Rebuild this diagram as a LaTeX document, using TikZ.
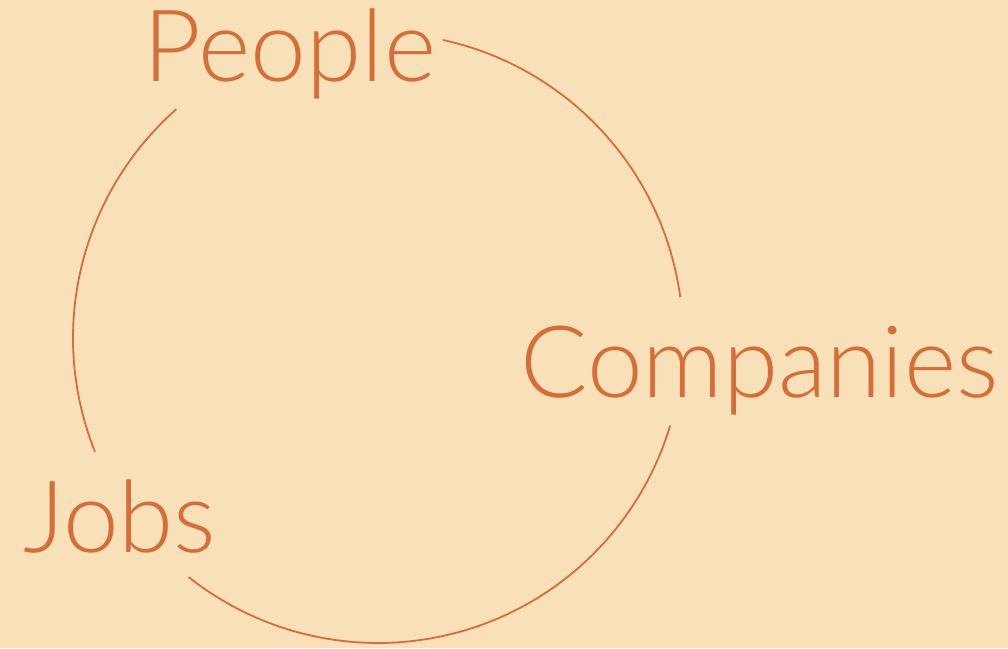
\documentclass[tikz,border=0pt]{standalone}
\usepackage{fontspec}
\newfontfamily\wordfont{Lato}[UprightFont={* Light}]
\definecolor{paper}{HTML}{F8E0B9}
\definecolor{rust}{HTML}{D76D37}
\tikzset{
  word/.style = {text = rust, inner sep = 0pt, anchor = base, font = \wordfont\fontsize{100}{100}\selectfont},
  ring/.style = {draw = rust, line width = 1.8pt}
}
\begin{document}
\begin{tikzpicture}[x = 1pt, y = 1pt]
\pgfmathsetlengthmacro\ringradius{305};
\fill[paper] (0,0) rectangle (1008,648);
\useasboundingbox (0,0) rectangle (1008,648);
\coordinate (hub) at (378,310);
\node[word] (people) at (290,566) {People};
\node[word] (companies) at (759.5,250) {Companies};
\node[word] (jobs) at (120,96) {Jobs};
\draw [ring] (hub) ++(77.7:\ringradius) arc [start angle = 77.7, end angle = 7.7, radius = \ringradius];
\draw [ring] (hub) ++(-16.7:\ringradius) arc [start angle = -16.7, end angle = -128.4, radius = \ringradius];
\draw [ring] (hub) ++(201.9:\ringradius) arc [start angle = 201.9, end angle = 131.4, radius = \ringradius];
\end{tikzpicture}
\end{document}
